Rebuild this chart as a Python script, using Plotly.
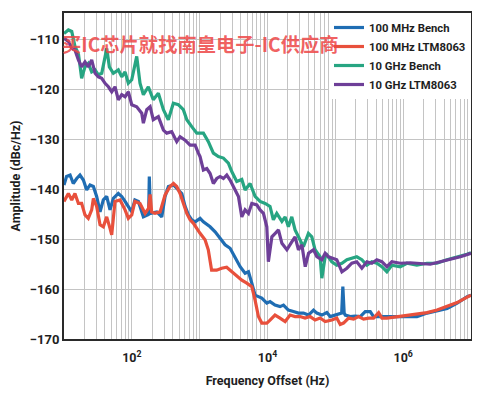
import plotly.graph_objects as go

# ---- data (frequency offset in Hz, amplitude in dBc/Hz) ----
blue_f = [10, 10.9, 12.3, 13.7, 15.4, 17.2, 19.3, 21.6, 24.2, 27.1, 30.3, 34, 38, 42.6, 47.7, 53.4,
          63.2, 71, 79.4, 88.8, 99.7, 111, 125, 148, 166, 177, 181, 188, 233, 276, 309, 346, 411, 486,
          545, 610, 683, 765, 857, 1015, 1135, 1425, 1690, 2000, 2370, 2810, 3330, 3950, 4675, 5240,
          5870, 6560, 7350, 8240, 9770, 10900, 12900, 15300, 17200, 20300, 24100, 28600, 33900, 40200,
          47700, 53400, 63200, 75000, 84000, 99600, 118000, 124000, 129000, 135000, 140000, 166000,
          196000, 233000, 276000, 327000, 366000, 459000, 577000, 811000, 1.14e6, 1.6e6, 2.25e6,
          3.16e6, 4.45e6, 6.25e6, 8.78e6, 1e7]
blue_v = [-139.1, -137.4, -137.1, -138.8, -137.8, -137.1, -138.1, -140.1, -139.1, -139.4, -141.4,
          -144.5, -142.1, -141.4, -144.1, -141.8, -140.8, -141.4, -142.4, -143.4, -144.5, -142.1,
          -142.4, -145.5, -145.1, -145.0, -137.4, -144.8, -144.5, -145.5, -141.4, -139.4, -139.1,
          -140.1, -140.8, -143.4, -145.1, -146.1, -146.5, -145.8, -146.5, -147.5, -148.5, -149.8,
          -151.1, -151.8, -153.5, -155.5, -156.8, -156.5, -158.8, -161.2, -161.5, -161.8, -162.8,
          -162.5, -163.2, -163.5, -163.2, -164.2, -164.5, -164.8, -164.8, -165.2, -164.2, -164.8,
          -165.2, -164.7, -165.5, -165.2, -164.8, -164.8, -159.5, -164.8, -165.2, -165.5, -165.4,
          -165.5, -164.5, -164.5, -165.5, -165.5, -165.4, -165.5, -165.4, -165.5, -164.8, -164.3,
          -163.9, -162.8, -161.5, -161.2]

red_f = [10, 11.6, 13, 14.5, 16.3, 18.2, 20.4, 22.8, 25.6, 27.1, 30.3, 34, 38, 42.6, 47.7, 50.5,
         56.5, 67, 79.4, 88.8, 99.7, 111, 132, 157, 176, 186, 196, 220, 261, 309, 366, 411, 459, 514,
         576, 646, 723, 810, 1013, 1200, 1340, 1500, 1780, 2110, 2500, 2970, 3520, 4180, 4950, 5870,
         6560, 7350, 8240, 9770, 10900, 12900, 15300, 18200, 21500, 25500, 30200, 35800, 42500,
         50300, 59700, 70800, 88800, 105000, 118000, 132000, 157000, 186000, 220000, 261000, 310000,
         366000, 435000, 487000, 577000, 811000, 1.14e6, 1.6e6, 2.25e6, 3.16e6, 4.45e6, 6.25e6,
         8.78e6, 1e7]
red_v = [-142.4, -140.8, -142.1, -140.8, -142.8, -142.8, -145.1, -145.8, -144.1, -141.8, -143.4,
         -147.1, -147.5, -145.5, -147.8, -149.1, -142.4, -142.1, -144.1, -145.8, -145.1, -142.4,
         -142.8, -144.8, -143.8, -141.0, -144.5, -144.8, -144.5, -141.1, -139.4, -138.8, -139.4,
         -140.8, -142.8, -144.8, -146.1, -146.8, -148.8, -150.1, -152.1, -156.2, -156.2, -155.8,
         -155.6, -156.5, -157.5, -158.2, -158.8, -159.5, -162.2, -165.5, -166.8, -166.8, -166.2,
         -165.2, -165.8, -166.5, -165.2, -165.5, -165.5, -165.8, -165.5, -166.2, -165.8, -166.5,
         -166.2, -165.8, -167.1, -166.8, -165.8, -166.0, -165.5, -166.0, -165.8, -165.8, -164.7,
         -165.8, -165.8, -165.5, -165.3, -165.0, -164.7, -164.2, -163.5, -162.7, -161.6, -161.2]

green_f = [10, 11.6, 13, 14.5, 16.3, 18.2, 20.4, 22.8, 25.6, 28.7, 32.1, 36, 42.7, 46.6, 53.4, 63.2,
           71, 79.4, 88.8, 99.7, 118, 132, 148, 175, 207, 246, 292, 345, 409, 485, 575, 646, 764,
           906, 1135, 1343, 1592, 1888, 2238, 2650, 2972, 3524, 4178, 4675, 5540, 6560, 7780, 9220,
           10900, 12200, 13700, 16300, 18200, 20300, 22800, 25500, 28600, 33800, 40100, 45000,
           50300, 59700, 63200, 70800, 75000, 88800, 105000, 125000, 148000, 175000, 207000,
           246000, 292000, 345000, 409000, 485000, 575000, 681000, 904000, 1.135e6, 1.59e6,
           2.24e6, 3.14e6, 4.42e6, 6.2e6, 8.7e6, 1e7]
green_v = [-108.7, -108.0, -108.3, -111.3, -112.7, -117.7, -115.4, -114.7, -116.4, -116.0, -117.0,
           -116.7, -111.7, -115.4, -116.7, -116.0, -117.4, -116.4, -118.7, -118.0, -113.3, -118.7,
           -121.0, -119.4, -122.0, -120.7, -124.0, -126.0, -122.7, -123.0, -124.0, -126.0, -127.4,
           -128.7, -128.7, -130.4, -132.7, -133.4, -133.7, -134.7, -136.4, -138.4, -138.0, -140.1,
           -138.8, -141.4, -142.4, -142.8, -143.4, -146.1, -144.8, -146.4, -145.5, -147.5, -145.5,
           -148.1, -149.5, -151.5, -148.8, -149.5, -152.1, -153.5, -157.8, -153.5, -153.1, -154.5,
           -155.2, -154.8, -154.1, -153.8, -153.5, -154.1, -155.2, -154.5, -154.8, -155.5, -156.5,
           -155.2, -155.5, -154.8, -155.2, -154.8, -154.8, -154.1, -153.6, -153.0, -152.7]

purple_f = [10, 11.6, 13, 14.5, 16.3, 18.2, 20.4, 22.8, 25.6, 28.7, 32.1, 36, 40.3, 45.1, 50.5,
            56.5, 63.2, 71, 79.4, 88.8, 99.7, 118, 140, 148, 166, 186, 207, 246, 292, 327, 387, 459,
            514, 610, 723, 857, 957, 1013, 1135, 1273, 1425, 1592, 1786, 2000, 2238, 2510, 2810,
            3150, 3730, 4178, 4675, 5240, 5870, 6960, 7780, 8710, 9770, 10300, 11600, 13000, 14500,
            16300, 19300, 22800, 25500, 28600, 32100, 36000, 40300, 47700, 53400, 63200, 70800,
            79300, 88800, 105000, 125000, 148000, 175000, 207000, 246000, 292000, 345000, 409000,
            485000, 575000, 681000, 904000, 1.27e6, 1.79e6, 2.51e6, 3.53e6, 4.96e6, 6.97e6, 1e7]
purple_v = [-109.7, -110.3, -111.7, -112.0, -114.0, -115.4, -114.4, -115.4, -114.0, -116.7, -117.4,
            -117.7, -118.7, -119.4, -120.4, -119.4, -122.0, -121.0, -121.4, -120.4, -123.0, -123.4,
            -124.7, -126.7, -124.0, -123.4, -126.0, -125.4, -128.1, -128.7, -128.4, -130.4, -129.4,
            -130.1, -131.1, -131.1, -132.7, -133.4, -136.1, -135.8, -136.8, -138.8, -137.8, -137.4,
            -137.8, -137.1, -138.1, -139.4, -141.4, -145.5, -144.1, -144.8, -142.8, -143.1, -144.1,
            -144.8, -147.5, -154.5, -149.5, -148.8, -148.1, -150.8, -152.1, -150.5, -149.5, -152.1,
            -151.1, -155.5, -152.8, -152.1, -153.5, -154.1, -152.8, -153.5, -153.8, -154.1, -156.5,
            -155.8, -154.8, -154.5, -155.8, -154.5, -154.8, -154.1, -154.5, -155.5, -154.5, -154.8,
            -154.7, -154.8, -155.0, -154.5, -154.0, -153.5, -152.8]

series_names = ["100 MHz Bench", "100 MHz LTM8063", "10 GHz Bench", "10 GHz LTM8063"]
series_colors = ["#1f6db3", "#e8503c", "#27a582", "#6e3f98"]

y_ticks = [-170, -160, -150, -140, -130, -120, -110]
x_label_vals = [1e2, 1e4, 1e6]
x_label_text = ["10<sup>2</sup>", "10<sup>4</sup>", "10<sup>6</sup>"]

# ---- figure ----
fig = go.Figure()
for name, color, fx, vy in zip(series_names, series_colors,
                               [blue_f, red_f, green_f, purple_f],
                               [blue_v, red_v, green_v, purple_v]):
    fig.add_trace(go.Scatter(x=fx, y=vy, mode="lines", name=name,
                             line=dict(color=color, width=3.2)))

minor_vals = [k * 10 ** d for d in range(1, 7) for k in range(1, 10)
              if k * 10 ** d not in x_label_vals] + [10 ** 7]

bold = dict(family="Roboto, Arial, sans-serif", size=12.5, color="#1e1e1e", weight="bold")
grid_c = "#c4c4c4"

# the page body adds an 8px offset, so the figure is sized to fill the rest of the window
fig.update_layout(
    width=472, height=390,
    margin=dict(l=56, r=9, t=5, b=59),
    plot_bgcolor="white", paper_bgcolor="white",
    showlegend=True,
    legend=dict(x=1, xanchor="right", y=1, yanchor="top", bgcolor="white",
                font=dict(family="Roboto, Arial, sans-serif", size=11.3, color="#1e1e1e",
                          weight="bold"),
                borderwidth=0, tracegroupgap=0, itemwidth=30),
    xaxis=dict(type="log", range=[1, 7], tickvals=x_label_vals, ticktext=x_label_text,
               showgrid=True, gridcolor=grid_c, gridwidth=1,
               minor=dict(tickvals=minor_vals, showgrid=True, gridcolor=grid_c, gridwidth=1,
                          ticks=""),
               showline=True, linecolor="#2a2a2a", linewidth=2, mirror=True,
               ticks="", tickfont=bold, automargin=False, ticklabelstandoff=6,
               title=dict(text="Frequency Offset (Hz)", font=bold, standoff=12),
               zeroline=False),
    yaxis=dict(range=[-170, -104.6], tickvals=y_ticks,
               showgrid=True, gridcolor=grid_c, gridwidth=1,
               showline=True, linecolor="#2a2a2a", linewidth=2, mirror=True,
               ticks="", tickfont=dict(bold, size=13), automargin=False,
               title=dict(text="Amplitude (dBc/Hz)", font=bold, standoff=12),
               zeroline=False),
)

fig.add_annotation(text="买IC芯片就找南皇电子-IC供应商", xref="paper", yref="paper",
                   x=0, y=0.905, xanchor="left", yanchor="middle", xshift=-4,
                   showarrow=False,
                   font=dict(family="Noto Sans CJK SC", size=19.3, color="rgba(238,70,70,0.85)",
                             weight="bold"))

fig.write_html("out.html")
